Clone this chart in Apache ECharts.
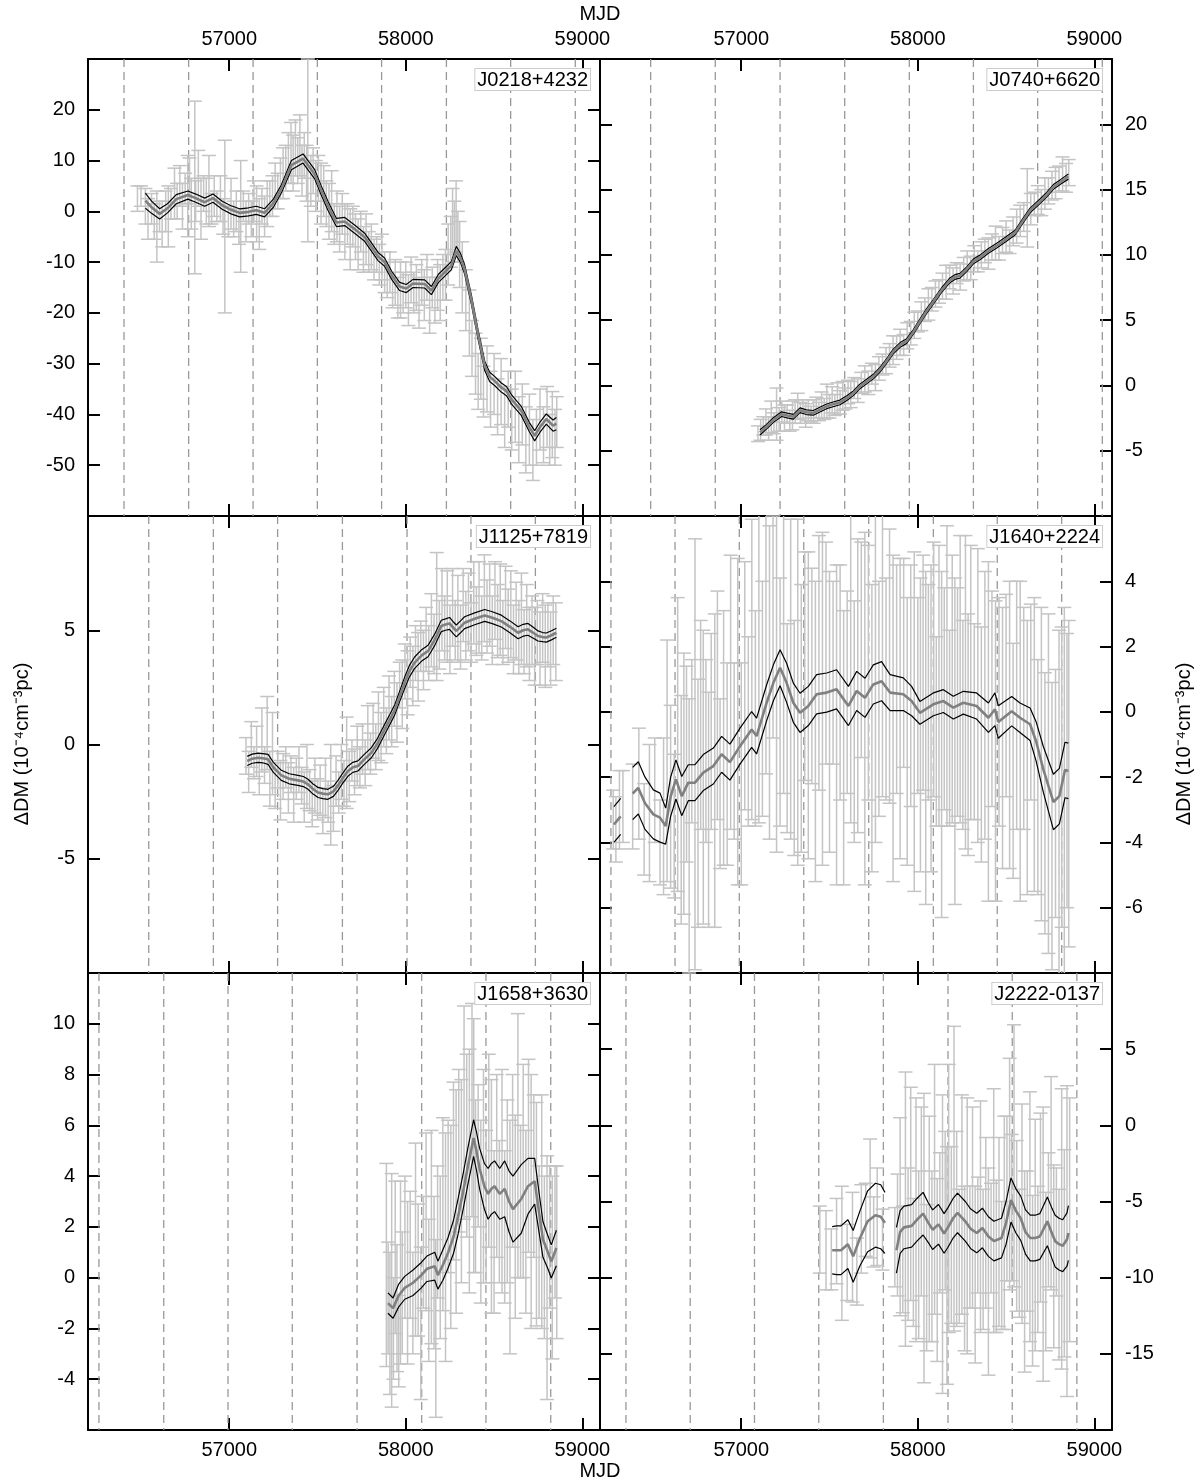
<!DOCTYPE html>
<html><head><meta charset="utf-8">
<script src="https://cdn.jsdelivr.net/npm/echarts@6/dist/echarts.min.js"></script>
<style>html,body{margin:0;padding:0;background:#fff}#c{width:1200px;height:1484px}</style>
</head><body><div id="c"></div>
<script>
// ---------------- DATA ----------------
const xTickValues = [57000, 58000, 59000];

// J0218+4232
const j0218_mjd = [56480,56500,56525,56540,56560,56575,56590,56605,56620,56640,56655,56670,56690,56705,56720,56735,56750,56765,56775,56785,56805,56810,56825,56840,56855,56870,56885,56900,56915,56930,56950,56965,56975,56995,57010,57025,57040,57055,57065,57080,57095,57110,57125,57140,57155,57170,57185,57200,57215,57230,57245,57260,57275,57290,57305,57320,57335,57350,57362,57375,57388,57400,57412,57425,57438,57445,57462,57475,57490,57505,57520,57535,57550,57565,57580,57595,57610,57625,57640,57655,57670,57685,57700,57715,57730,57745,57760,57775,57790,57805,57820,57835,57850,57865,57880,57895,57910,57925,57940,57955,57970,57985,58000,58015,58030,58045,58060,58075,58090,58105,58120,58135,58150,58165,58180,58195,58210,58225,58240,58255,58265,58275,58285,58295,58305,58320,58340,58360,58375,58395,58410,58425,58440,58460,58480,58500,58520,58540,58560,58580,58600,58620,58640,58660,58680,58700,58720,58740,58760,58780,58800,58815,58830,58845,58855];
const j0218_dm  = [2.5,3.0,1.0,-1.5,0.5,-2.0,-3.0,-1.0,-2.5,0.0,-1.0,1.5,3.5,2.0,5.0,1.0,4.5,3.0,6.0,1.5,4.7,2.0,6.5,0.5,3.5,2.0,4.0,0.5,3.0,1.0,2.5,-1.0,-3.0,-2.0,1.5,-1.5,0.0,-3.0,-1.0,1.0,-2.0,0.5,-1.5,2.0,-0.5,-2.5,1.0,-1.0,1.5,2.5,3.0,5.0,4.0,6.5,7.5,8.5,10.5,11.5,9.5,12.5,10.0,13.0,8.0,11.0,7.5,12.0,6.0,8.0,5.0,6.5,3.5,4.0,1.5,0.0,2.0,-2.5,-1.0,-3.5,-0.5,-4.0,-2.5,-5.5,-3.0,-5.0,-6.5,-4.0,-7.5,-5.5,-8.0,-7.0,-9.5,-8.5,-10.5,-9.0,-12.0,-13.5,-12.0,-15.5,-14.0,-17.0,-15.5,-16.0,-14.5,-17.5,-13.5,-16.0,-15.0,-18.0,-14.0,-16.5,-13.0,-18.5,-15.0,-17.5,-14.5,-16.0,-13.0,-12.5,-8.5,-6.0,-2.0,-4.0,-1.0,-5.0,-8.5,-13.0,-17.5,-22.0,-27.0,-30.0,-33.5,-31.0,-35.5,-33.0,-37.0,-34.0,-38.5,-35.5,-40.5,-37.0,-41.0,-38.5,-43.0,-40.0,-45.0,-43.0,-47.0,-44.5,-41.0,-44.0,-40.5,-45.0,-42.0,-44.5,-41.5];
const j0218_err = [2.5,2.0,3.5,4.0,3.0,3.5,7.0,3.0,4.5,4.0,6.0,3.0,5.0,3.5,4.0,4.5,3.0,8.0,4.5,5.0,17.0,4.0,5.5,6.0,3.5,4.5,7.0,3.0,4.0,3.0,4.5,3.5,17.0,3.0,5.0,3.5,4.0,3.5,11.0,3.0,4.0,3.0,3.5,4.0,5.5,5.0,3.5,4.0,4.5,3.5,4.0,4.5,3.5,4.0,5.0,4.5,5.0,6.0,5.5,5.5,4.5,6.0,5.0,4.5,5.5,18.0,5.0,4.5,5.0,4.5,6.0,5.0,4.5,5.5,6.0,4.0,5.0,4.5,4.0,5.5,4.0,6.0,4.0,4.5,5.0,4.0,4.5,5.0,4.0,4.5,4.0,3.5,4.0,4.5,4.0,3.5,4.0,3.5,4.5,4.0,5.5,4.0,4.5,5.0,4.5,4.0,4.5,5.0,4.5,5.0,4.5,5.5,4.0,4.5,5.0,5.5,4.5,5.0,6.0,5.0,6.5,6.0,7.0,5.0,6.5,7.0,6.0,6.5,5.5,6.0,5.5,6.0,5.0,6.5,5.5,6.0,5.5,6.5,6.0,5.5,6.0,7.0,6.5,6.0,6.5,7.0,6.0,5.5,6.0,5.5,6.0,5.0,6.5,5.5,5.0];
const j0218_model_mjd = [56525,56560,56606,56650,56700,56766,56810,56861,56908,56960,57010,57059,57110,57153,57200,57250,57295,57352,57418,57484,57520,57559,57607,57654,57710,57767,57843,57880,57920,57965,58003,58041,58107,58145,58185,58220,58258,58286,58310,58333,58371,58409,58447,58475,58503,58541,58570,58598,58654,58700,58730,58760,58796,58834,58853];
const j0218_model_dm  = [2.1,0.8,-0.5,0.6,2.4,3.2,2.6,1.8,2.6,1.2,0.3,-0.3,-0.1,0.2,-0.3,1.6,4.4,9.1,10.4,7.3,4.2,1.1,-2.2,-2.0,-3.5,-5.1,-8.9,-10.0,-12.6,-14.8,-15.2,-14.2,-14.3,-15.6,-13.2,-12.0,-10.7,-7.8,-9.2,-11.4,-17.3,-24.2,-30.4,-32.6,-33.4,-34.7,-35.4,-37.0,-39.3,-42.5,-44.2,-42.5,-40.9,-42.2,-41.8];
const j0218_model_hw  = [1.5,1.2,1.0,0.9,0.9,0.8,0.8,0.8,0.8,0.8,0.8,0.8,0.8,0.8,0.8,0.8,0.8,0.9,0.9,0.9,0.9,0.9,0.8,0.8,0.8,0.8,0.8,0.8,0.8,0.8,0.8,0.8,0.8,0.8,0.8,0.8,0.8,0.9,0.9,0.9,0.9,0.9,0.9,0.9,0.9,0.9,0.9,0.9,0.9,0.9,1.0,1.0,1.0,1.1,1.2];
const j0218_years = [56404,56770,57135,57499,57863,58230,58594,58960];

// J0740+6620
const j0740_mjd = [57095,57110,57125,57140,57155,57170,57185,57200,57215,57230,57245,57260,57275,57290,57305,57320,57335,57350,57365,57380,57395,57410,57425,57440,57455,57470,57485,57500,57515,57530,57545,57560,57575,57590,57605,57620,57640,57660,57680,57700,57720,57740,57760,57780,57800,57820,57840,57860,57880,57900,57920,57940,57960,57980,58000,58020,58040,58060,58080,58100,58120,58140,58160,58180,58200,58220,58240,58260,58280,58300,58320,58340,58360,58380,58400,58420,58440,58460,58480,58500,58520,58540,58560,58580,58600,58620,58640,58660,58680,58700,58720,58740,58760,58780,58800,58820,58840,58855];
const j0740_dm  = [-3.7,-3.4,-3.1,-2.8,-3.3,-2.4,-2.9,-2.2,-2.6,-2.0,-2.5,-2.2,-2.7,-2.3,-2.0,-1.6,-2.1,-1.8,-2.3,-1.9,-2.2,-2.0,-1.7,-2.0,-1.5,-1.8,-1.2,-1.6,-1.1,-1.5,-1.0,-1.3,-0.8,-1.0,-0.5,-0.7,-0.2,-0.4,0.2,0.5,0.2,0.9,0.6,1.3,1.6,1.9,2.3,2.7,2.9,3.3,3.1,3.8,4.0,4.6,4.9,5.3,5.8,6.2,6.6,7.0,7.2,7.6,7.9,8.3,8.0,8.6,8.3,8.9,9.2,9.0,9.7,9.5,10.0,10.3,10.1,10.6,10.9,10.5,11.1,11.4,11.0,11.8,12.2,12.6,12.9,13.6,13.5,13.9,14.2,14.0,14.7,14.9,15.3,15.5,15.8,16.2,15.9,16.3];
const j0740_err = [0.6,0.8,0.7,1.0,0.9,1.2,0.8,2.0,0.9,0.8,1.0,0.7,0.8,1.1,0.9,1.0,0.8,0.7,0.9,0.8,0.6,0.9,0.8,0.7,1.0,0.8,1.3,0.9,1.0,0.8,1.2,0.9,1.1,0.8,0.9,1.0,0.8,0.9,0.8,1.0,0.9,0.8,1.0,0.9,0.8,1.0,0.9,1.1,0.9,1.0,0.8,1.0,0.9,1.0,0.8,1.1,0.9,1.2,0.9,1.0,0.9,1.0,1.3,0.9,1.0,0.8,1.0,0.9,1.1,0.9,1.0,0.8,1.0,0.9,1.2,1.0,1.3,0.9,1.0,1.2,0.9,1.1,1.3,1.2,1.1,3.0,1.2,0.9,1.1,1.0,1.2,1.0,1.1,1.2,1.0,1.3,1.1,1.0];
const j0740_model_mjd = [57106,57140,57182,57229,57260,57295,57333,57370,57408,57445,57484,57520,57559,57600,57635,57670,57710,57750,57786,57825,57861,57900,57937,57975,58012,58050,58088,58135,58182,58210,58239,58277,58315,58352,58400,58447,58500,58551,58590,58636,58692,58730,58768,58810,58853];
const j0740_model_dm  = [-3.6,-3.2,-2.65,-2.2,-2.3,-2.4,-1.9,-2.05,-2.1,-1.85,-1.6,-1.45,-1.3,-0.95,-0.6,-0.1,0.3,0.7,1.2,1.9,2.6,3.1,3.4,4.1,4.9,5.7,6.4,7.3,8.05,8.3,8.4,8.9,9.5,9.8,10.3,10.7,11.2,11.7,12.5,13.4,14.1,14.6,15.2,15.6,16.0];
const j0740_model_hw  = [0.2,0.18,0.18,0.18,0.18,0.18,0.18,0.18,0.18,0.18,0.18,0.18,0.18,0.18,0.18,0.18,0.18,0.18,0.18,0.18,0.18,0.18,0.18,0.18,0.18,0.18,0.18,0.18,0.18,0.18,0.18,0.18,0.18,0.18,0.18,0.18,0.18,0.18,0.18,0.18,0.18,0.18,0.18,0.18,0.2];
const j0740_years = [56487,56853,57220,57586,57952,58315,58679,59045];

// J1125+7819
const j1125_mjd = [57095,57110,57125,57140,57155,57170,57185,57200,57215,57230,57245,57260,57275,57290,57305,57320,57335,57350,57365,57380,57395,57410,57425,57440,57455,57470,57485,57500,57515,57530,57545,57560,57575,57590,57605,57620,57635,57650,57665,57680,57695,57710,57725,57740,57755,57770,57785,57800,57815,57830,57845,57860,57875,57890,57905,57920,57935,57950,57965,57980,57995,58010,58025,58040,58055,58070,58085,58100,58115,58130,58145,58160,58175,58190,58205,58220,58235,58250,58265,58280,58295,58310,58325,58340,58355,58370,58385,58400,58415,58430,58445,58460,58475,58490,58505,58520,58535,58550,58565,58580,58595,58610,58625,58640,58655,58670,58685,58700,58715,58730,58745,58760,58775,58790,58805,58820,58835,58850];
const j1125_dm  = [-0.5,-1.2,0.0,-0.8,-0.3,-1.3,0.2,-0.9,0.5,-1.5,-0.4,-1.8,-1.1,-2.0,-1.4,-1.0,-1.9,-1.3,-2.2,-1.5,-1.1,-1.8,-2.3,-1.4,-2.0,-2.6,-1.8,-2.4,-2.0,-2.9,-1.9,-2.5,-2.2,-2.8,-1.6,-2.1,-1.2,-1.7,-0.8,-1.4,-0.7,-1.2,-0.5,-1.0,-0.2,-0.8,0.3,-0.4,0.6,-0.1,0.8,0.3,1.2,0.6,1.6,1.0,2.0,1.4,2.6,2.2,3.2,2.7,3.6,3.0,4.0,3.4,4.3,3.7,4.6,4.0,5.0,4.4,5.6,4.8,5.9,5.1,5.6,4.6,6.0,5.0,5.5,4.7,6.1,5.2,5.8,4.9,6.2,5.4,6.0,5.1,6.4,5.6,6.1,5.0,6.3,5.4,5.9,4.9,6.0,5.2,5.7,4.6,5.4,4.7,5.5,4.5,5.2,4.4,5.0,4.3,4.9,4.2,5.1,4.3,4.8,4.2,5.0,4.5];
const j1125_err = [0.8,0.9,1.0,0.7,1.1,0.9,1.4,0.8,1.6,1.2,1.8,1.0,0.8,1.3,1.0,0.9,1.1,0.8,1.2,0.9,1.0,0.8,1.1,1.4,0.9,1.0,1.2,0.9,1.1,1.0,1.3,0.9,2.2,1.0,1.1,0.9,1.2,1.0,2.0,1.1,0.9,1.0,1.3,0.9,1.1,1.0,1.4,0.9,1.2,1.0,1.5,1.1,1.3,1.0,1.4,1.1,1.2,1.3,1.0,1.5,1.2,1.4,1.1,1.3,1.2,1.5,1.1,1.3,1.4,1.2,1.6,1.3,2.8,1.5,1.8,1.4,2.0,1.5,1.7,1.3,1.9,1.4,1.6,1.5,1.7,1.3,1.8,1.5,2.0,1.4,1.9,1.6,1.8,1.5,1.7,1.6,2.0,1.4,1.8,1.6,1.9,1.5,1.7,1.6,2.0,1.4,1.8,1.6,1.5,1.7,1.4,1.6,1.5,1.8,1.4,1.6,1.5,1.7];
const j1125_model_mjd = [57102,57130,57163,57190,57220,57250,57295,57340,57389,57420,57446,57475,57503,57530,57559,57590,57616,57645,57673,57700,57729,57765,57805,57840,57880,57910,57937,57965,57994,58020,58050,58090,58126,58165,58201,58225,58248,58270,58286,58310,58333,58390,58447,58490,58541,58590,58636,58665,58692,58720,58749,58775,58796,58825,58853];
const j1125_model_dm  = [-0.72,-0.62,-0.58,-0.6,-0.65,-1.0,-1.35,-1.5,-1.57,-1.62,-1.74,-1.95,-2.1,-2.15,-2.18,-2.05,-1.79,-1.45,-1.16,-1.0,-0.94,-0.65,-0.36,0.05,0.66,1.1,1.51,2.1,2.71,3.2,3.58,3.9,4.09,4.6,5.19,5.25,5.3,5.1,4.97,5.15,5.33,5.5,5.65,5.55,5.4,5.15,4.89,5.0,5.04,4.9,4.75,4.7,4.68,4.78,4.89];
const j1125_model_hw  = [0.2,0.2,0.2,0.2,0.22,0.22,0.22,0.22,0.22,0.22,0.22,0.22,0.22,0.22,0.22,0.22,0.22,0.22,0.22,0.22,0.22,0.22,0.22,0.22,0.22,0.22,0.22,0.22,0.25,0.25,0.25,0.25,0.25,0.25,0.25,0.25,0.26,0.26,0.26,0.26,0.26,0.26,0.26,0.26,0.26,0.26,0.26,0.26,0.26,0.24,0.22,0.2,0.2,0.2,0.2];
const j1125_years = [56544,56910,57274,57641,58007,58369,58734];

// J1640+2224
const j1640_mjd = [56275,56290,56310,56330,56385,56420,56450,56480,56510,56540,56560,56580,56600,56620,56640,56660,56675,56690,56705,56720,56738,56755,56770,56785,56800,56815,56830,56850,56865,56880,56900,56920,56940,56960,56980,57000,57020,57040,57060,57080,57100,57120,57140,57160,57180,57200,57220,57240,57260,57280,57300,57320,57340,57360,57380,57400,57420,57440,57460,57480,57500,57520,57540,57560,57580,57600,57620,57640,57660,57680,57700,57720,57740,57760,57780,57800,57820,57840,57860,57880,57900,57920,57940,57960,57980,58000,58015,58030,58045,58060,58075,58090,58105,58120,58135,58150,58165,58180,58195,58210,58225,58240,58255,58270,58285,58300,58320,58340,58360,58380,58400,58420,58440,58460,58480,58500,58520,58540,58560,58580,58600,58620,58640,58660,58680,58700,58720,58740,58760,58780,58800,58815,58830,58845,58855];
const j1640_dm  = [-3.3,-3.6,-3.0,-2.9,-2.9,-2.2,-3.6,-3.1,-2.4,-4.0,-3.2,-1.5,-2.6,-3.5,-1.0,-3.0,-2.2,-1.6,-3.8,-0.9,-1.3,-2.8,-0.4,-2.0,-1.2,-3.0,-0.6,-1.8,0.2,-2.2,-0.8,-1.6,0.6,-1.2,-0.3,-1.9,0.8,-0.6,1.3,-0.2,1.8,0.4,2.1,0.9,2.6,1.2,0.3,1.9,-0.5,1.0,-0.8,0.6,-0.2,1.4,0.2,1.1,-0.6,1.5,0.4,1.8,0.0,1.2,-0.4,0.9,-1.1,0.6,1.6,-0.3,0.8,1.9,0.1,1.2,-0.5,1.6,0.4,2.2,0.7,1.4,-0.2,1.0,0.1,1.5,-0.6,0.8,-0.3,0.5,-0.4,1.2,-0.8,0.6,-0.2,1.3,-0.6,0.8,-1.0,0.4,1.1,-0.5,0.7,-0.9,0.3,1.0,-0.4,0.6,-0.7,0.9,-0.3,0.5,-1.0,0.2,-0.6,0.4,-1.2,0.0,-0.8,0.5,-0.4,-1.5,0.2,-0.9,-0.2,-1.4,0.3,-1.0,-2.0,-1.6,-2.8,-2.2,-3.5,-2.5,-3.0,-2.0,-2.6,-1.8,-2.2];
const j1640_err = [0.9,1.0,1.2,1.1,1.3,1.7,1.4,2.1,1.6,1.3,2.4,3.7,2.8,2.2,4.5,3.5,4.0,3.0,4.2,2.5,6.6,3.8,3.2,4.5,2.8,3.6,3.0,4.8,3.5,2.6,3.9,3.1,4.2,2.7,5.0,3.4,3.8,2.9,4.6,3.3,5.2,3.6,4.0,4.8,3.4,5.5,3.8,4.4,3.2,4.9,3.6,5.3,4.1,3.5,4.7,3.3,4.6,3.9,5.1,3.4,4.3,2.8,4.9,3.6,4.2,3.1,5.0,3.7,4.5,3.3,5.4,3.9,4.4,5.6,3.6,4.8,3.4,4.2,5.0,3.5,4.6,3.2,4.1,3.7,5.2,3.0,4.5,3.6,5.1,3.3,4.7,3.9,2.9,4.3,5.3,3.4,4.6,3.0,4.1,5.0,3.5,4.4,3.2,4.8,3.7,4.2,3.0,4.5,3.6,4.1,5.2,3.3,4.6,3.5,4.0,3.1,4.4,3.6,3.8,4.9,3.4,4.2,3.0,4.5,3.6,4.8,4.0,5.2,4.4,3.8,5.5,4.6,5.8,4.2,5.0];
const j1640_model_mjd = [56279,56317,null,56385,56417,56455,56502,56540,56572,56600,56630,56663,56700,56738,56785,56842,56889,56936,56993,57059,57087,57144,57182,57220,57257,57295,57333,57380,57427,57484,57540,57607,57654,57701,57748,57795,57843,57918,57965,58012,58088,58145,58201,58258,58333,58400,58437,58456,58532,58579,58636,58670,58711,58768,58802,58834,58853];
const j1640_model_dm  = [-3.45,-3.2,null,-2.5,-2.33,-2.8,-3.14,-3.24,-3.5,-2.6,-2.07,-2.58,-2.17,-2.17,-1.86,-1.66,-1.3,-1.54,-1.05,-0.54,-0.74,0.28,0.89,1.35,0.89,0.28,-0.03,0.18,0.54,0.59,0.69,0.18,0.64,0.43,0.84,0.94,0.59,0.54,0.33,-0.03,0.23,0.33,0.13,0.28,0.18,-0.18,0.08,-0.31,0.02,-0.18,-0.38,-0.9,-1.76,-2.76,-2.58,-1.78,-1.81];
const j1640_model_hw  = [0.55,0.55,null,0.8,0.8,0.8,0.75,0.75,0.55,0.6,0.6,0.6,0.55,0.55,0.55,0.55,0.55,0.55,0.55,0.55,0.55,0.55,0.55,0.55,0.6,0.6,0.6,0.6,0.6,0.6,0.6,0.6,0.6,0.6,0.6,0.6,0.55,0.5,0.45,0.35,0.35,0.35,0.35,0.35,0.4,0.45,0.5,0.5,0.45,0.45,0.5,0.6,0.7,0.85,0.85,0.85,0.85];
const j1640_years = [56262,56625,56989,57354,57722,58088,58450,58815];

// J1658+3630
const j1658_mjd = [57890,57900,57910,57920,57930,57940,57950,57960,57970,57980,57995,58010,58025,58040,58055,58070,58085,58100,58115,58130,58145,58160,58170,58180,58195,58210,58225,58240,58255,58270,58285,58300,58315,58330,58345,58360,58375,58385,58395,58410,58425,58440,58455,58470,58485,58500,58515,58530,58545,58560,58575,58590,58605,58620,58635,58650,58665,58680,58695,58710,58725,58740,58755,58770,58785,58800,58815,58830,58845,58855];
const j1658_dm  = [0.5,-0.8,-1.8,-0.5,-2.0,0.8,-1.2,-2.5,0.2,-0.6,1.2,-0.2,0.9,-1.0,1.5,0.3,-1.8,1.0,2.2,-0.5,1.6,0.2,-2.0,1.8,0.8,2.5,1.2,3.2,2.0,4.2,3.0,5.0,3.8,6.5,5.2,4.2,6.6,5.2,3.6,4.8,2.6,4.0,2.8,5.0,3.2,1.8,4.4,2.6,3.8,2.0,3.4,1.6,4.6,2.4,5.2,3.0,4.2,2.2,4.8,3.0,4.0,2.5,1.4,2.6,0.8,0.0,1.6,0.4,1.8,1.0];
const j1658_err = [4.0,2.2,2.8,4.6,2.0,3.0,2.5,1.8,3.6,2.4,2.8,3.2,2.5,2.0,3.8,2.6,3.0,2.2,3.5,2.8,4.2,3.0,3.5,2.6,3.2,3.8,4.5,3.0,4.0,3.5,4.4,3.2,4.0,4.2,3.6,4.8,4.2,5.0,3.4,2.8,3.6,4.2,3.0,3.8,4.6,3.2,3.6,2.8,4.4,3.0,3.6,4.6,3.4,4.0,5.2,3.0,4.2,3.6,3.8,5.0,3.2,4.4,3.0,4.6,3.2,4.8,2.8,3.6,2.6,3.4];
const j1658_model_mjd = [57899,57928,57960,57994,58041,58088,58120,58164,58182,58210,58239,58270,58296,58325,58352,58384,58400,58418,58445,58466,58485,58503,58532,58560,58585,58607,58654,58692,58730,58750,58777,58805,58824,58853];
const j1658_model_dm  = [-1.0,-1.2,-0.7,-0.4,-0.2,0.1,0.35,0.45,0.1,0.5,0.97,1.6,2.4,3.4,4.4,5.5,5.0,4.3,3.6,3.3,3.5,3.6,3.3,3.5,3.0,2.7,3.1,3.6,3.8,2.8,1.5,1.0,0.64,1.17];
const j1658_model_hw  = [0.4,0.4,0.45,0.45,0.5,0.5,0.5,0.55,0.55,0.6,0.6,0.65,0.7,0.7,0.72,0.72,0.75,0.8,0.9,1.0,1.0,1.0,1.0,1.1,1.2,1.3,1.35,1.1,0.9,0.8,0.7,0.65,0.65,0.7];
const j1658_years = [56262,56629,56993,57357,57724,58090,58454,58821];

// J2222-0137
const j2222_mjd = [57445,57480,57510,57540,57570,57600,57630,57655,57680,57705,57730,57750,57770,57800,57870,57885,57900,57915,57930,57945,57960,57975,57990,58005,58020,58035,58050,58065,58080,58095,58110,58125,58140,58155,58165,58175,58190,58205,58220,58235,58250,58265,58280,58295,58310,58325,58340,58355,58370,58385,58400,58415,58430,58445,58460,58475,58490,58505,58520,58532,58545,58560,58575,58590,58605,58620,58635,58650,58665,58680,58695,58710,58725,58740,58755,58770,58785,58800,58815,58830,58845,58860];
const j2222_dm  = [-7.5,-8.2,-8.8,-7.6,-8.4,-9.0,-8.0,-9.6,-6.8,-6.2,-4.8,-7.0,-6.0,-7.5,-8.0,-7.2,-6.0,-8.8,-5.5,-7.8,-4.5,-9.0,-6.2,-8.5,-5.0,-7.4,-10.0,-6.8,-8.6,-4.2,-9.5,-6.4,-7.8,-5.6,-9.2,-4.8,-7.2,-3.5,-6.8,-8.6,-5.2,-9.4,-6.6,-8.0,-5.4,-9.8,-7.2,-6.0,-8.8,-6.4,-9.6,-7.4,-5.6,-8.6,-7.0,-9.2,-6.4,-4.8,-3.2,-5.4,-2.0,-6.6,-8.4,-5.8,-9.6,-7.6,-6.0,-10.2,-7.2,-8.8,-5.4,-7.8,-9.6,-6.2,-3.8,-8.6,-7.0,-9.8,-6.8,-8.4,-7.6,-6.2];
const j2222_err = [2.2,2.6,2.0,2.8,4.4,2.5,3.6,2.2,2.9,2.4,3.9,2.3,3.2,2.0,2.6,4.0,6.5,3.5,9.0,5.0,7.0,4.2,8.0,5.5,6.2,9.5,4.8,7.4,5.6,8.2,6.0,4.6,9.8,5.2,7.8,8.8,5.8,10.0,6.4,4.4,7.2,5.4,8.4,4.0,6.6,5.8,3.8,7.6,4.6,5.6,6.8,3.6,8.0,5.0,6.2,4.2,7.0,5.4,7.6,4.8,8.6,5.6,4.2,7.2,6.6,4.6,8.2,5.6,7.6,4.8,6.2,9.0,5.2,4.4,7.0,6.0,4.2,5.6,9.2,6.8,10.2,8.0];
const j2222_model_mjd = [57515,57540,57565,57604,57634,57673,57716,57760,57790,57814,null,57879,57900,57922,57965,57995,58030,58060,58084,58117,58149,58171,58200,58225,58269,58300,58334,58366,58400,58431,58474,58500,58528,58555,58583,58610,58637,58665,58691,58734,58760,58778,58800,58821,58845,58853];
const j2222_model_dm  = [-8.2,-8.2,-8.2,-7.8,-8.6,-7.4,-6.3,-5.9,-6.0,-6.4,null,-8.2,-7.0,-6.7,-6.6,-6.2,-5.8,-6.4,-6.85,-6.5,-7.1,-6.7,-6.1,-5.75,-6.3,-6.8,-7.07,-6.74,-7.3,-7.6,-7.4,-6.4,-4.9,-5.6,-6.1,-7.0,-7.4,-7.4,-7.3,-6.3,-7.1,-7.6,-7.8,-7.9,-7.5,-7.07];
const j2222_model_hw  = [1.55,1.6,1.6,1.6,1.7,1.8,2.0,2.1,2.1,2.0,null,1.5,1.4,1.4,1.4,1.4,1.4,1.3,1.3,1.3,1.3,1.3,1.3,1.3,1.3,1.3,1.3,1.3,1.3,1.3,1.3,1.4,1.45,1.45,1.45,1.45,1.5,1.5,1.5,1.6,1.65,1.7,1.7,1.7,1.75,1.8];
const j2222_years = [56347,56711,57075,57439,57805,58171,58535,58901];

const panelNames = ['J0218+4232','J0740+6620','J1125+7819','J1640+2224','J1658+3630','J2222-0137'];
const yRanges = [[-60,30,10],[-10,25,5],[-10,10,5],[-8,6,2],[-6,12,2],[-20,10,5]];

// ---------------- CHART ----------------
const FONT = '"Liberation Sans", Arial, Helvetica, sans-serif';
const X_MIN = 56200, X_MAX = 59100;
const GL = [88, 600], GT = [59, 516, 973], GW = 512, GH = 457;

const panels = [
  {mjd:j0218_mjd, dm:j0218_dm, err:j0218_err, mm:j0218_model_mjd, md:j0218_model_dm, mh:j0218_model_hw, yrs:j0218_years},
  {mjd:j0740_mjd, dm:j0740_dm, err:j0740_err, mm:j0740_model_mjd, md:j0740_model_dm, mh:j0740_model_hw, yrs:j0740_years},
  {mjd:j1125_mjd, dm:j1125_dm, err:j1125_err, mm:j1125_model_mjd, md:j1125_model_dm, mh:j1125_model_hw, yrs:j1125_years},
  {mjd:j1640_mjd, dm:j1640_dm, err:j1640_err, mm:j1640_model_mjd, md:j1640_model_dm, mh:j1640_model_hw, yrs:j1640_years},
  {mjd:j1658_mjd, dm:j1658_dm, err:j1658_err, mm:j1658_model_mjd, md:j1658_model_dm, mh:j1658_model_hw, yrs:j1658_years},
  {mjd:j2222_mjd, dm:j2222_dm, err:j2222_err, mm:j2222_model_mjd, md:j2222_model_dm, mh:j2222_model_hw, yrs:j2222_years}
];

function segments(mm, md, mh) {
  const segs = []; let cur = [];
  for (let k = 0; k < mm.length; k++) {
    if (mm[k] === null) { if (cur.length) segs.push(cur); cur = []; continue; }
    cur.push([mm[k], md[k], mh[k]]);
  }
  if (cur.length) segs.push(cur);
  return segs;
}

const grid = [], xAxis = [], yAxis = [], series = [], graphic = [];
const axLine = {show:true, onZero:false, lineStyle:{color:'#000', width:2}};
const tickStyle = {color:'#000', width:2};
const plain = v => String(v);
const lab = (show, extra) => Object.assign({show, color:'#000', fontSize:20, fontFamily:FONT, formatter:plain}, extra||{});

panels.forEach((p, i) => {
  const col = i % 2, row = Math.floor(i / 2);
  const [ymin, ymax, yint] = yRanges[i];
  grid.push({left:GL[col], top:GT[row], width:GW, height:GH});
  ['bottom','top'].forEach(pos => {
    xAxis.push({gridIndex:i, type:'value', min:X_MIN, max:X_MAX, position:pos,
      axisLine:axLine, splitLine:{show:false},
      axisTick:{show:true, inside:true, length:12, customValues:xTickValues, lineStyle:tickStyle},
      axisLabel:lab(pos==='bottom' ? row===2 : row===0, {customValues:xTickValues, margin:10})});
  });
  ['left','right'].forEach(pos => {
    yAxis.push({gridIndex:i, type:'value', min:ymin, max:ymax, interval:yint, position:pos,
      axisLine:axLine, splitLine:{show:false},
      axisTick:{show:true, inside:true, length:12, lineStyle:tickStyle},
      axisLabel:lab(pos==='left' ? col===0 : col===1, {margin:13, showMinLabel:false, showMaxLabel:false})});
  });
  // yearly dashed lines
  series.push({type:'custom', xAxisIndex:2*i, yAxisIndex:2*i, silent:true, z:1,
    data:p.yrs.map(v => [v, ymin]), encode:{x:0, y:1},
    renderItem:(params, api) => {
      const cs = params.coordSys;
      const c = api.coord([api.value(0), api.value(1)]);
      return {type:'line', shape:{x1:c[0], y1:cs.y, x2:c[0], y2:cs.y + cs.height},
        style:{stroke:'#999', lineWidth:1.3, lineDash:[8,5]}};
    }});
  // error bars
  series.push({type:'custom', xAxisIndex:2*i, yAxisIndex:2*i, silent:true, z:2,
    data:p.mjd.map((m, k) => [m, p.dm[k], p.err[k]]), encode:{x:0, y:1},
    renderItem:(params, api) => {
      const cs = params.coordSys;
      const m = api.value(0), v = api.value(1), e = api.value(2);
      const a = api.coord([m, v + e]), b = api.coord([m, v - e]);
      const top = cs.y, bot = cs.y + cs.height, w = 7;
      const st = {stroke:'#c4c4c4', lineWidth:1.5};
      const y1 = Math.max(a[1], top), y2 = Math.min(b[1], bot);
      const ch = [{type:'line', shape:{x1:a[0], y1:y1, x2:a[0], y2:y2}, style:st}];
      if (a[1] >= top) ch.push({type:'line', shape:{x1:a[0]-w, y1:a[1], x2:a[0]+w, y2:a[1]}, style:st});
      if (b[1] <= bot) ch.push({type:'line', shape:{x1:b[0]-w, y1:b[1], x2:b[0]+w, y2:b[1]}, style:st});
      return {type:'group', children:ch};
    }});
  // model band
  segments(p.mm, p.md, p.mh).forEach(seg => {
    const mk = (data, color, width, z) => series.push({type:'line', xAxisIndex:2*i, yAxisIndex:2*i,
      data, symbol:'none', showSymbol:false, silent:true, z, animation:false,
      lineStyle:{color, width}});
    mk(seg.map(d => [d[0], d[1] + d[2]]), '#000', 1.2, 4);
    mk(seg.map(d => [d[0], d[1] - d[2]]), '#000', 1.2, 4);
    mk(seg.map(d => [d[0], d[1]]), '#808080', 2.6, 5);
  });
  // panel name box
  graphic.push({type:'text', x:GL[col] + GW - 10, y:GT[row] + 10, z:100,
    style:{text:panelNames[i], font:'20px ' + FONT, fill:'#000', textAlign:'right', textVerticalAlign:'top',
      backgroundColor:'#fff', borderColor:'#cccccc', borderWidth:1, padding:[1,2,0,2]}});
});

const yName = 'ΔDM (10⁻⁴cm⁻³pc)';
graphic.push(
  {type:'text', x:600, y:14, style:{text:'MJD', font:'20px ' + FONT, fill:'#000', textAlign:'center', textVerticalAlign:'middle'}},
  {type:'text', x:600, y:1471, style:{text:'MJD', font:'20px ' + FONT, fill:'#000', textAlign:'center', textVerticalAlign:'middle'}},
  {type:'text', x:22, y:744, rotation:Math.PI/2, style:{text:yName, font:'20px ' + FONT, fill:'#000', textAlign:'center', textVerticalAlign:'middle'}},
  {type:'text', x:1184, y:744, rotation:Math.PI/2, style:{text:yName, font:'20px ' + FONT, fill:'#000', textAlign:'center', textVerticalAlign:'middle'}}
);

const chart = echarts.init(document.getElementById('c'), null, {renderer:'canvas', width:1200, height:1484});
chart.setOption({animation:false, backgroundColor:'#fff', grid, xAxis, yAxis, series, graphic});
</script>
</body></html>
